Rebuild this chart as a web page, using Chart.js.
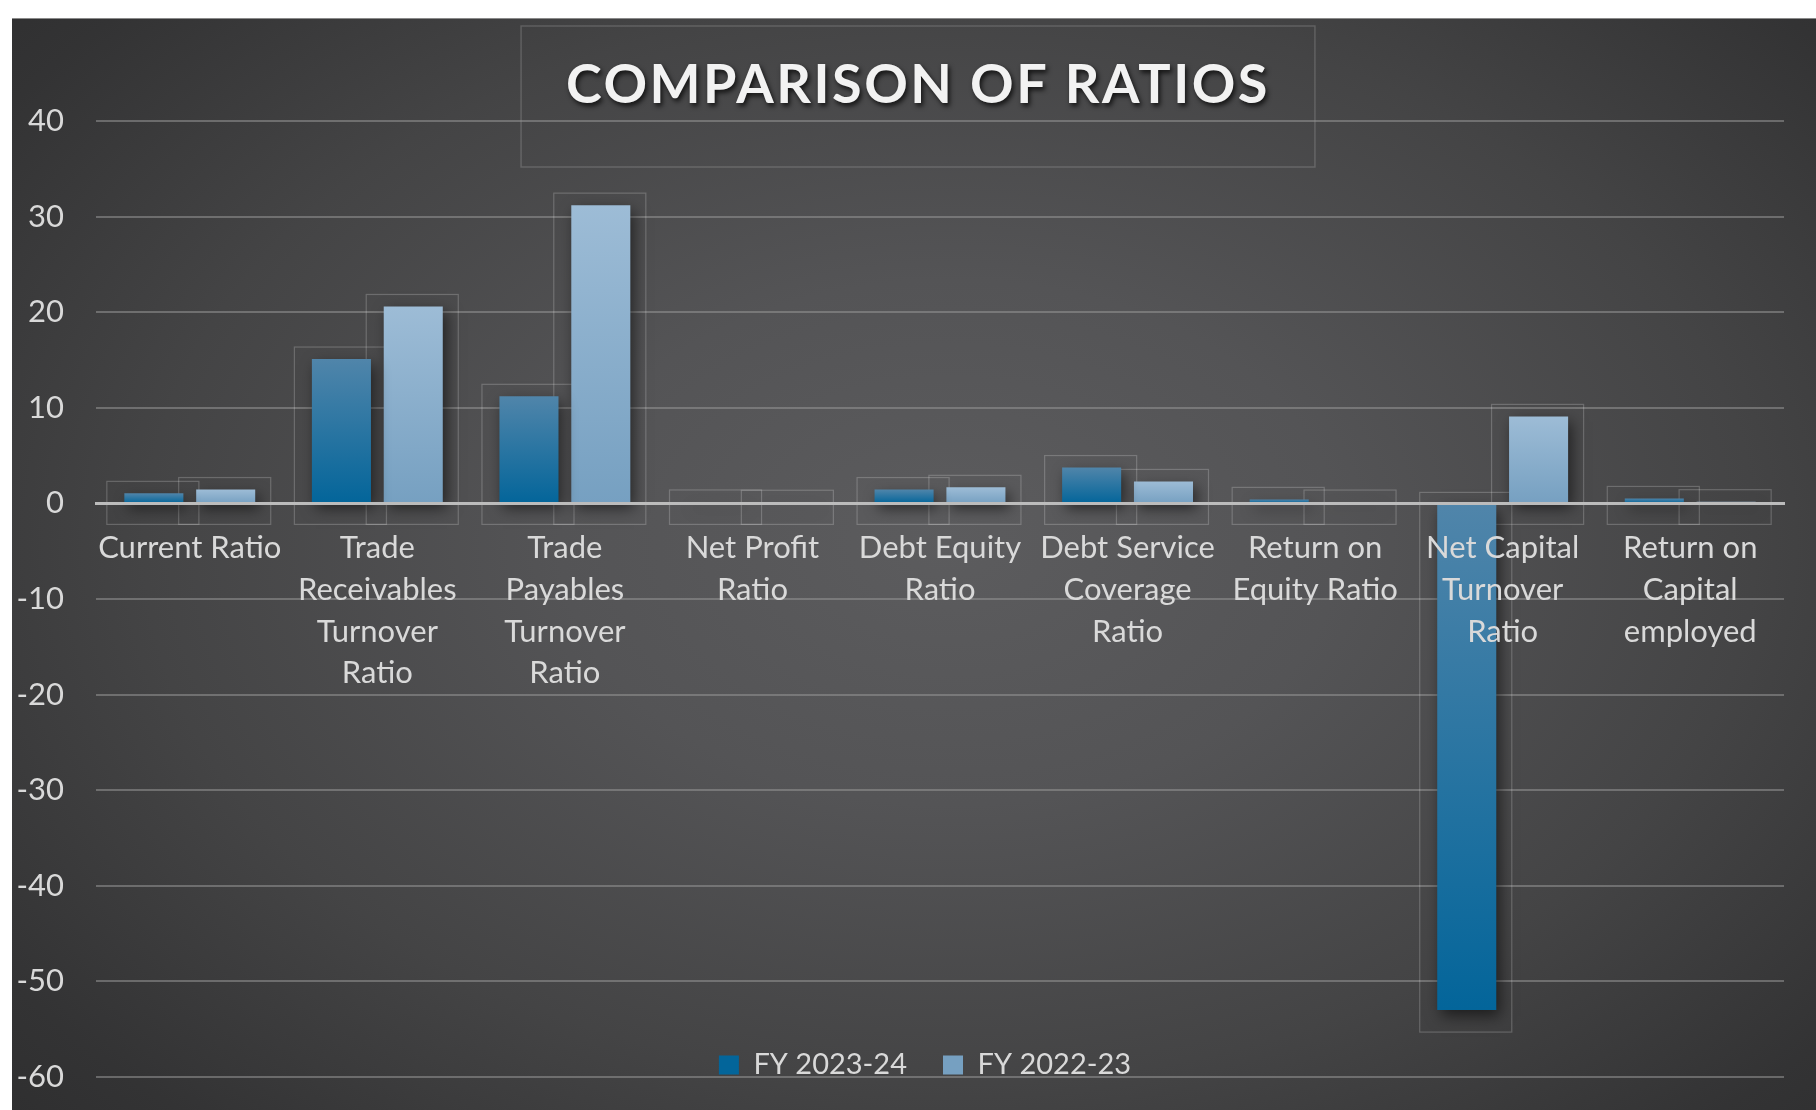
<!DOCTYPE html>
<html><head><meta charset="utf-8">
<script src="https://cdn.jsdelivr.net/npm/chart.js@4.4.1/dist/chart.umd.min.js"></script>
<style>
html,body{margin:0;padding:0;background:#fff;width:1816px;height:1110px;overflow:hidden}
#wrap{position:absolute;left:12px;top:18px;width:1804px;height:1092px;
 background:radial-gradient(ellipse 72% 80% at 52% 48%, #5c5c5e 0%, #545456 30%, #444445 62%, #333334 88%, #2e2e2f 100%);
 box-shadow:inset 0 1px 0 #8a8a8a}
canvas{display:block}
</style></head><body>
<div id="wrap"><canvas id="c"></canvas></div>
<script>
// ---- data ----
const chartTitle = "COMPARISON OF RATIOS";
const categories = [
  ["Current Ratio"],
  ["Trade", "Receivables", "Turnover", "Ratio"],
  ["Trade", "Payables", "Turnover", "Ratio"],
  ["Net Profit", "Ratio"],
  ["Debt Equity", "Ratio"],
  ["Debt Service", "Coverage", "Ratio"],
  ["Return on", "Equity Ratio"],
  ["Net Capital", "Turnover", "Ratio"],
  ["Return on", "Capital", "employed"]
];
const seriesNames = ["FY 2023-24", "FY 2022-23"];
const fy2023_24 = [1.05, 15.1, 11.2, 0.15, 1.45, 3.75, 0.42, -53.0, 0.52];
const fy2022_23 = [1.45, 20.6, 31.2, 0.12, 1.68, 2.3, 0.14, 9.1, 0.18];
const yMin = -60, yMax = 40, yStep = 10;

// ---- styling ----
const FONT = "Lato";
const TEXT = "#d9d9d9";
const palettes = [
  {top: "#5085aa", bottom: "#03659a", solid: "#2a76a4"},
  {top: "#9dbcd6", bottom: "#76a0c1", solid: "#8cb0cf"}
];

function barFill(pi) {
  return (ctx) => {
    const p = palettes[pi];
    if (ctx.type !== 'data') return p.solid;
    const chart = ctx.chart, y = chart.scales.y;
    if (!y || !chart.chartArea) return p.solid;
    const v = ctx.raw;
    const t = y.getPixelForValue(Math.max(v, 0));
    const b = y.getPixelForValue(Math.min(v, 0));
    if (!isFinite(t) || !isFinite(b) || b - t < 2) return p.top;
    const g = chart.ctx.createLinearGradient(0, t, 0, b);
    g.addColorStop(0, p.top);
    g.addColorStop(1, p.bottom);
    return g;
  };
}

const decor = {
  id: 'decor',
  beforeLayout(chart) {
    const L = chart.legend;
    if (L && !L._wrapped) {
      const f = L.fit.bind(L);
      L.fit = function () { f(); this._realHeight = this.height; this.height = 0; };
      L._wrapped = true;
    }
  },
  afterLayout(chart) {
    const t = chart.titleBlock;
    if (t) {
      if (!t._wrapped) {
        const orig = t.draw.bind(t);
        t.draw = function (a) {
          const c = chart.ctx;
          c.save();
          c.shadowColor = 'rgba(0,0,0,0.75)';
          c.shadowBlur = 5; c.shadowOffsetX = 2; c.shadowOffsetY = 3;
          c.letterSpacing = '2.5px';
          orig(a);
          c.restore();
        };
        t._wrapped = true;
      }
      t.left += 20; t.right += 20;
    }
    const L = chart.legend;
    if (L && L.options.display) {
      const pad = L.options.labels.padding;
      const fs = L.options.labels.font.size;
      const center = chart.chartArea.bottom - 12;
      L.top = center - pad - fs / 2;
      L.bottom = L.top + (L._realHeight || 100) + 20;
      L.height = L.bottom - L.top;
      L.left += 27; L.right += 27;
    }
  },
  beforeDraw(chart) {
    const t = chart.titleBlock;
    if (!t) return;
    const c = chart.ctx;
    c.save();
    c.font = "bold 54px " + FONT;
    c.letterSpacing = '2.5px';
    const w = c.measureText(chartTitle).width;
    c.restore();
    const cx = (t.left + t.right) / 2;
    c.save();
    c.strokeStyle = 'rgba(255,255,255,0.16)';
    c.lineWidth = 1.5;
    c.strokeRect(cx - w / 2 - 45, t.top + 8, w + 90, chart.chartArea.top + 46 - (t.top + 8));
    c.restore();
  },
  beforeDatasetsDraw(chart) {
    const c = chart.ctx;
    c.save();
    c.strokeStyle = 'rgba(255,255,255,0.2)';
    c.lineWidth = 1.2;
    chart.data.datasets.forEach((ds, di) => {
      const meta = chart.getDatasetMeta(di);
      meta.data.forEach(bar => {
        const {x, y, base, width} = bar.getProps(['x', 'y', 'base', 'width'], true);
        const top = Math.min(y, base), bot = Math.max(y, base);
        c.strokeRect(x - width / 2 - 17.5, top - 12, width + 33, bot - top + 34);
      });
    });
    c.restore();
    c.save();
    c.shadowColor = 'rgba(0,0,0,0.55)';
    c.shadowBlur = 14; c.shadowOffsetX = 4; c.shadowOffsetY = 6;
  },
  afterDatasetsDraw(chart) {
    chart.ctx.restore();
  }
};

new Chart(document.getElementById('c'), {
  type: 'bar',
  data: {
    labels: categories,
    datasets: [
      {label: seriesNames[0], data: fy2023_24, backgroundColor: barFill(0), borderWidth: 0},
      {label: seriesNames[1], data: fy2022_23, backgroundColor: barFill(1), borderWidth: 0}
    ]
  },
  options: {
    responsive: true,
    maintainAspectRatio: false,
    animation: false,
    datasets: {bar: {categoryPercentage: 0.766, barPercentage: 0.822}},
    layout: {padding: {top: 0, left: 0, right: 32, bottom: 33}},
    plugins: {
      title: {
        display: true, text: chartTitle, color: '#f2f2f2',
        font: {family: FONT, size: 54, weight: 'bold', lineHeight: 1.2},
        padding: {top: 35, bottom: 3.2}
      },
      legend: {
        display: true, position: 'bottom',
        labels: {color: TEXT, font: {family: FONT, size: 29}, boxWidth: 20, boxHeight: 19, padding: 36}
      },
      tooltip: {enabled: false}
    },
    scales: {
      x: {
        position: {y: 0},
        grid: {display: false, drawTicks: false},
        border: {display: true, color: '#bcbcbc', width: 3, z: 1},
        ticks: {color: TEXT, font: {family: FONT, size: 31, lineHeight: 1.345}, padding: 24,
                maxRotation: 0, minRotation: 0, autoSkip: false, z: 1},
        afterFit(s) { s.height = 0; }
      },
      y: {
        min: yMin, max: yMax,
        grid: {color: 'rgba(150,150,150,0.55)', lineWidth: 2, drawTicks: false},
        border: {display: false},
        ticks: {stepSize: yStep, color: TEXT, font: {family: FONT, size: 31}, padding: 32},
        afterFit(s) { s.width = 84; s.paddingTop = 0; s.paddingBottom = 0; }
      }
    }
  },
  plugins: [decor]
});
</script>
</body></html>
